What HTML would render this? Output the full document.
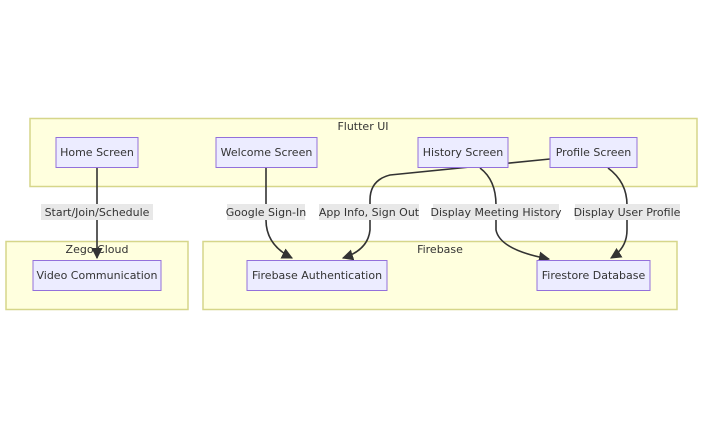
<!DOCTYPE html>
<html><head><style>
body{margin:0;background:#fff;}
svg text{font-family:"DejaVu Sans","Liberation Sans",sans-serif;font-size:11px;fill:#333;}
</style></head><body>
<svg width="703" height="428" xmlns="http://www.w3.org/2000/svg">
<defs><marker id="a" viewBox="0 0 10 10" refX="9" refY="5" markerWidth="7" markerHeight="7" orient="auto"><path d="M0,0L10,5L0,10z" fill="#333"/></marker></defs>
<g fill="#ffffde" stroke="#d6d68a" stroke-width="1.5">
<rect x="30" y="118.5" width="667" height="68"/>
<rect x="6" y="241.5" width="182" height="68"/>
<rect x="203" y="241.5" width="474" height="68"/>
</g>
<text x="363" y="130" text-anchor="middle">Flutter UI</text>
<text x="97" y="253" text-anchor="middle">Zego Cloud</text>
<text x="440" y="253" text-anchor="middle">Firebase</text>
<g fill="none" stroke="#333" stroke-width="1.6">
<path d="M97,168 V258" marker-end="url(#a)"/>
<path d="M266,168 V220 Q266,245 292,258" marker-end="url(#a)"/>
<path d="M550,159 L390,175 Q370,180 370,200 V230 Q368,250 343,258" marker-end="url(#a)"/>
<path d="M480,168 Q496,180 496,205 V230 Q500,250 549,259" marker-end="url(#a)"/>
<path d="M608,168 Q627,182 627,205 V230 Q627,248 611,258" marker-end="url(#a)"/>
</g>
<g fill="#e8e8e8">
<rect x="41" y="204" width="112" height="16"/>
<rect x="227" y="204" width="78" height="16"/>
<rect x="319" y="204" width="100" height="16"/>
<rect x="433" y="204" width="126" height="16"/>
<rect x="575" y="204" width="105" height="16"/>
</g>
<g text-anchor="middle">
<text x="97" y="216">Start/Join/Schedule</text>
<text x="266" y="216">Google Sign-In</text>
<text x="369" y="216">App Info, Sign Out</text>
<text x="496" y="216">Display Meeting History</text>
<text x="627" y="216">Display User Profile</text>
</g>
<g fill="#ececff" stroke="#9370db" stroke-width="1">
<rect x="56" y="137.5" width="82" height="30"/>
<rect x="216" y="137.5" width="101" height="30"/>
<rect x="418" y="137.5" width="90" height="30"/>
<rect x="550" y="137.5" width="87" height="30"/>
<rect x="33" y="260.5" width="128" height="30"/>
<rect x="247" y="260.5" width="140" height="30"/>
<rect x="537" y="260.5" width="113" height="30"/>
</g>
<g text-anchor="middle">
<text x="97" y="156">Home Screen</text>
<text x="266.5" y="156">Welcome Screen</text>
<text x="463" y="156">History Screen</text>
<text x="593.5" y="156">Profile Screen</text>
<text x="97" y="279">Video Communication</text>
<text x="317" y="279">Firebase Authentication</text>
<text x="593.5" y="279">Firestore Database</text>
</g>
</svg>
</body></html>
